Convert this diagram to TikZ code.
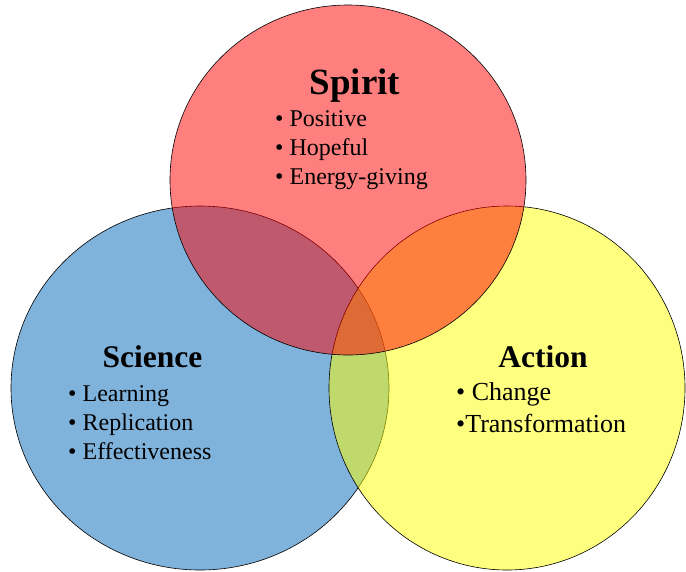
\documentclass[tikz,border=0pt]{standalone}
\usepackage{fontspec}
\setmainfont{Liberation Serif}
\usepackage{tikz}
\usepackage{xcolor}
\definecolor{sciblue}{RGB}{0,104,184}
\definecolor{spiritred}{RGB}{255,0,0}
\definecolor{actionyellow}{RGB}{255,255,0}

\begin{document}
\begin{tikzpicture}[x=1pt, y=-1pt,
    venn/.style={draw=black, line width=0.6pt, fill opacity=0.5},
    title/.style={font=\bfseries\fontsize{31.5}{36}\selectfont, anchor=base, inner sep=0pt},
    item/.style={font=\fontsize{24}{28}\selectfont, anchor=base west, inner sep=0pt}]
            \useasboundingbox (0,0) rectangle (686,571);
            % Three circles, blue first so the later fills tint over it
            \draw[venn, fill=sciblue] (200,388) ellipse [x radius=189, y radius=182];
            \draw[venn, fill=actionyellow] (507,388) ellipse [x radius=178, y radius=182];
            \draw[venn, fill=spiritred] (348,180) ellipse [x radius=178, y radius=175];
            % Spirit
            \node[title, font=\bfseries\fontsize{37}{42}\selectfont] (spirit) at (355,94) {Spirit};
            \node[item] (positive) at (275,126) {• Positive};
            \node[item] (hopeful) at (275,155) {• Hopeful};
            \node[item] (energy) at (275,184) {• Energy-giving};
            % Science
            \node[title] (science) at (152.5,367) {Science};
            \node[item] (learning) at (68,401) {• Learning};
            \node[item] (replication) at (68,430) {• Replication};
            \node[item] (effect) at (68,459) {• Effectiveness};
            % Action
            \node[title] (action) at (543,367) {Action};
            \node[item, font=\fontsize{26}{30}\selectfont] (change) at (456,400) {• Change};
            \node[item, font=\fontsize{26}{30}\selectfont] (transform) at (456,432) {•Transformation};
        \end{tikzpicture}
\end{document}
